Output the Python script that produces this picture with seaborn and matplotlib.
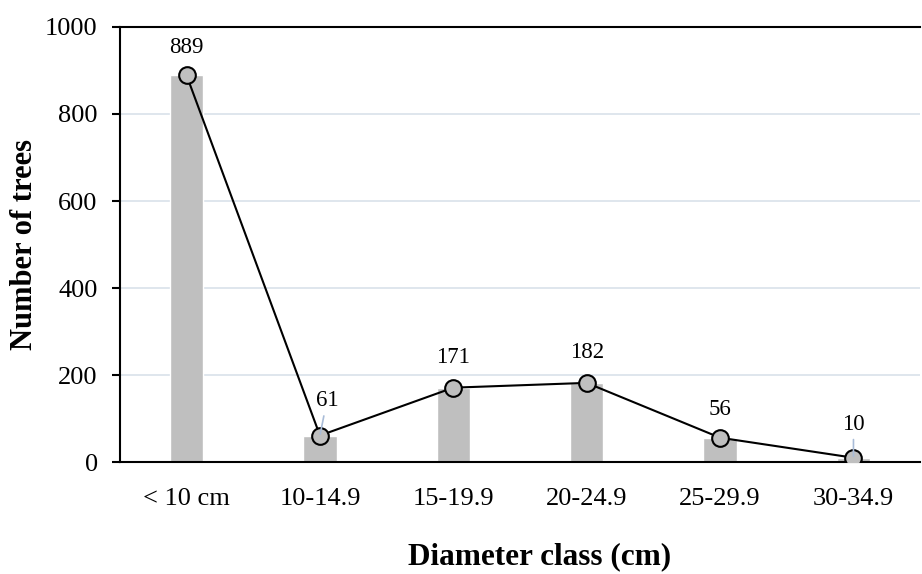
import numpy as np
import pandas as pd
import matplotlib
matplotlib.use('Agg')
import matplotlib.pyplot as plt
import seaborn as sns

classes = ['< 10 cm', '10-14.9', '15-19.9', '20-24.9', '25-29.9', '30-34.9']
trees = [889, 61, 171, 182, 56, 10]
# label offsets in points (dx, dy) and whether a leader line is drawn
label_off = [(0, 20), (5, 25), (0, 22), (0, 22), (0, 20), (0, 24)]
leader = [False, True, False, False, False, True]

df = pd.DataFrame({'cls': classes, 'n': trees})

sns.set_style('white')
plt.rcParams['font.family'] = ['Liberation Serif', 'DejaVu Serif']
plt.rcParams.update({'text.color': 'black', 'axes.labelcolor': 'black',
                     'xtick.color': 'black', 'ytick.color': 'black'})

fig = plt.figure(figsize=(9.22, 5.74), dpi=100)
ax = fig.add_axes([0.130, 0.195, 0.868, 0.758])

sns.barplot(data=df, x='cls', y='n', color='#BFBFBF', width=0.25,
            saturation=1, ax=ax, zorder=2)
sns.lineplot(x=np.arange(len(classes)), y=trees, color='black', lw=1.5,
             marker='o', markersize=12, markerfacecolor='#BFBFBF',
             markeredgecolor='black', markeredgewidth=1.5, ax=ax, zorder=3)

for i, v in enumerate(trees):
    dx, dy = label_off[i]
    props = None
    if leader[i]:
        props = dict(arrowstyle='-', color='#A9BCD8', lw=1.2, shrinkA=1, shrinkB=1)
    ax.annotate(str(v), (i, v), xytext=(dx, dy), textcoords='offset points',
                ha='center', va='center', fontsize=16.5, color='black',
                arrowprops=props, zorder=4)

ax.set_ylim(0, 1000)
ax.set_xlim(-0.5, 5.5)
ax.set_yticks(range(0, 1001, 200))
ax.yaxis.grid(True, color='#D9E1EA', lw=1.2, zorder=0)
ax.set_axisbelow(True)
for s in ['left', 'bottom', 'top']:
    ax.spines[s].set_color('black')
    ax.spines[s].set_linewidth(1.5)
ax.spines['right'].set_visible(False)
ax.tick_params(axis='y', which='major', direction='out', length=6, width=1.5,
               color='black', labelcolor='black', left=True, labelsize=19, pad=10)
ax.tick_params(axis='x', length=0, labelsize=19, labelcolor='black', pad=19)

ax.set_xlabel('Diameter class (cm)', fontsize=22.5, fontweight='bold', color='black')
ax.xaxis.set_label_coords(0.524, -0.185)
ax.set_ylabel('Number of trees', fontsize=22, fontweight='bold', color='black', labelpad=4)

fig.savefig('out.png', dpi=100)
